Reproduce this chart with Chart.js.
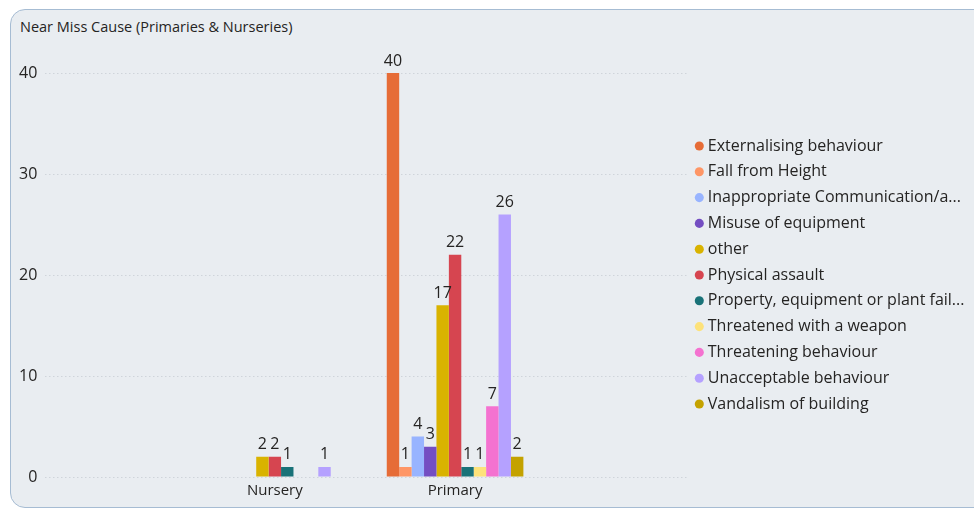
<!DOCTYPE html>
<html>
<head>
<meta charset="utf-8">
<script src="https://cdn.jsdelivr.net/npm/chart.js@4/dist/chart.umd.min.js"></script>
<style>
  body { margin: 0; background: #fff; }
  #wrap { position: relative; width: 974px; height: 509px; overflow: hidden; }
  #card {
    position: absolute; left: 10px; top: 9px; width: 1010px; height: 497px;
    background: #e9edf1; border: 1.5px solid #a6bcd3; border-radius: 15px;
  }
  #title {
    position: absolute; left: 20px; top: 17px;
    font: 14.5px "Segoe UI", "Open Sans", sans-serif; color: #252423;
  }
  #chart { position: absolute; left: 0; top: 0; }
</style>
</head>
<body>
<div id="wrap">
  <div id="card"></div>
  <div id="title">Near Miss Cause (Primaries &amp; Nurseries)</div>
  <canvas id="chart" width="974" height="509"></canvas>
</div>
<script>
const categories = ["Nursery", "Primary"];
const causes = [
  "Externalising behaviour",
  "Fall from Height",
  "Inappropriate Communication/a...",
  "Misuse of equipment",
  "other",
  "Physical assault",
  "Property, equipment or plant fail...",
  "Threatened with a weapon",
  "Threatening behaviour",
  "Unacceptable behaviour",
  "Vandalism of building"
];
const nurseryCounts = [null, null, null, null, 2, 2, 1, null, null, 1, null];
const primaryCounts = [40, 1, 4, 3, 17, 22, 1, 1, 7, 26, 2];
const yTicks = [0, 10, 20, 30, 40];

const colours = [
  "#e66c37", "#fe9666", "#98b4ff", "#744ec2", "#d9b300", "#d64550",
  "#197278", "#fde27a", "#f472d0", "#b5a1ff", "#c4a200"
];

const font = '"Segoe UI", "Open Sans", sans-serif';
const textColour = "#252423";

// the category groups only take the middle part of the plot, like the original
const xRange = { start: 0.2166, span: 0.56 };

const squeezeX = {
  id: "squeezeX",
  afterLayout(chart) {
    const x = chart.scales.x;
    const area = chart.chartArea;
    const w = area.right - area.left;
    x._startPixel = area.left + w * xRange.start;
    x._length = w * xRange.span;
    x._endPixel = x._startPixel + x._length;
  }
};

const valueLabels = {
  id: "valueLabels",
  afterDatasetsDraw(chart) {
    const ctx = chart.ctx;
    ctx.save();
    ctx.font = "16px " + font;
    ctx.fillStyle = textColour;
    ctx.textAlign = "center";
    ctx.textBaseline = "bottom";
    chart.data.datasets.forEach((ds, i) => {
      chart.getDatasetMeta(i).data.forEach((bar, j) => {
        const v = ds.data[j];
        if (v === null || v === undefined) return;
        ctx.fillText(String(v), bar.x, bar.y - 4);
      });
    });
    ctx.restore();
  }
};

new Chart(document.getElementById("chart"), {
  type: "bar",
  data: {
    labels: categories,
    datasets: causes.map((name, i) => ({
      label: name,
      data: [nurseryCounts[i], primaryCounts[i]],
      backgroundColor: colours[i],
      borderWidth: 0,
      categoryPercentage: 0.758,
      barPercentage: 1
    }))
  },
  options: {
    responsive: false,
    animation: false,
    layout: { padding: { top: 73, left: 11, right: 0, bottom: 4 } },
    scales: {
      x: {
        grid: { display: false, drawTicks: false },
        border: { display: false },
        ticks: { color: textColour, font: { family: font, size: 15 }, padding: 5 }
      },
      y: {
        min: 0,
        max: 40,
        afterBuildTicks: (scale) => { scale.ticks = yTicks.map(v => ({ value: v })); },
        grid: { color: "#cfd4da", drawTicks: false },
        border: { display: false, dash: [1.5, 2.5] },
        ticks: { color: textColour, font: { family: font, size: 16 }, padding: 8 }
      }
    },
    plugins: {
      tooltip: { enabled: false },
      legend: {
        position: "right",
        fullSize: false,
        maxWidth: 285,
        labels: {
          usePointStyle: true,
          pointStyle: "circle",
          boxWidth: 1,
          boxHeight: 6.4,
          padding: 9.8,
          color: textColour,
          font: { family: font, size: 16 }
        }
      }
    }
  },
  plugins: [squeezeX, valueLabels]
});
</script>
</body>
</html>
